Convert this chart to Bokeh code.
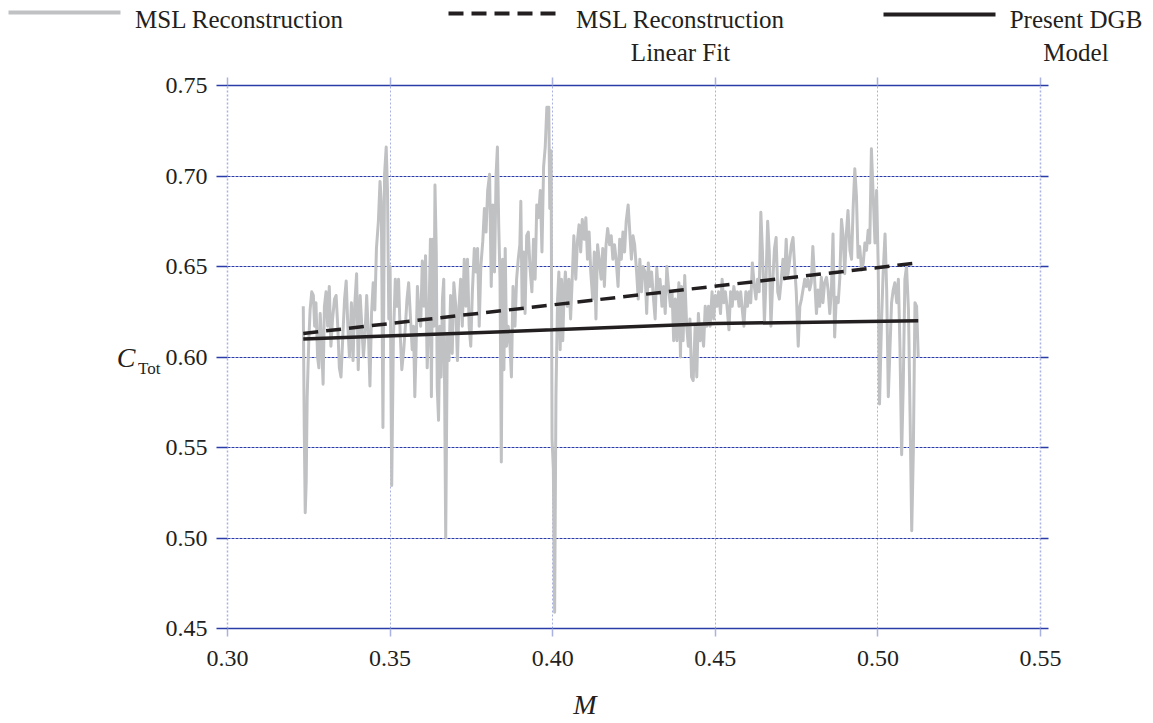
from bokeh.plotting import figure
from bokeh.models import Range1d, LinearAxis, FixedTicker, PrintfTickFormatter, Grid
from bokeh.layouts import column
from bokeh.embed import file_html
from bokeh.resources import INLINE
from bokeh.core.properties import value

# ---------------- data ----------------
msl_m = [
    0.3233, 0.3236, 0.3239, 0.3242, 0.3245, 0.3250, 0.3254, 0.3259, 0.3264, 0.3268,
    0.3272, 0.3277, 0.3281, 0.3285, 0.3289, 0.3294, 0.3298, 0.3303, 0.3308, 0.3313,
    0.3318, 0.3323, 0.3329, 0.3334, 0.3339, 0.3344, 0.3349, 0.3355, 0.3360, 0.3365,
    0.3370, 0.3375, 0.3381, 0.3386, 0.3391, 0.3397, 0.3402, 0.3408, 0.3413, 0.3418,
    0.3423, 0.3428, 0.3434, 0.3438, 0.3443, 0.3448, 0.3453, 0.3458, 0.3464, 0.3469,
    0.3473, 0.3478, 0.3483, 0.3488, 0.3492, 0.3496, 0.3500, 0.3505, 0.3510, 0.3516,
    0.3521, 0.3526, 0.3531, 0.3536, 0.3542, 0.3547, 0.3552, 0.3557, 0.3562, 0.3568,
    0.3572, 0.3576, 0.3580, 0.3584, 0.3588, 0.3594, 0.3599, 0.3604, 0.3609, 0.3614,
    0.3619, 0.3624, 0.3627, 0.3631, 0.3635, 0.3638, 0.3642, 0.3645, 0.3649, 0.3653,
    0.3657, 0.3661, 0.3665, 0.3668, 0.3671, 0.3676, 0.3681, 0.3686, 0.3691, 0.3696,
    0.3702, 0.3707, 0.3712, 0.3717, 0.3722, 0.3728, 0.3733, 0.3738, 0.3743, 0.3748,
    0.3753, 0.3759, 0.3764, 0.3769, 0.3774, 0.3779,
    0.3785, 0.3790, 0.3795, 0.3800, 0.3806, 0.3811, 0.3816, 0.3821, 0.3826, 0.3830,
    0.3834, 0.3838, 0.3842, 0.3846, 0.3850, 0.3854, 0.3858, 0.3863, 0.3868, 0.3873,
    0.3878, 0.3884, 0.3889, 0.3894, 0.3899, 0.3902, 0.3906, 0.3911, 0.3915, 0.3920,
    0.3925, 0.3930, 0.3936, 0.3941, 0.3946, 0.3951, 0.3956, 0.3962, 0.3967, 0.3972,
    0.3977, 0.3982, 0.3988, 0.3991, 0.3995, 0.3998, 0.4002, 0.4006, 0.4010, 0.4015,
    0.4019, 0.4023, 0.4027, 0.4031, 0.4035, 0.4039, 0.4045, 0.4050, 0.4055, 0.4060,
    0.4065, 0.4071, 0.4076, 0.4081, 0.4086, 0.4091, 0.4097, 0.4102, 0.4107, 0.4112,
    0.4117, 0.4123, 0.4128, 0.4133, 0.4138, 0.4143, 0.4149, 0.4154, 0.4159, 0.4164,
    0.4169, 0.4175, 0.4180, 0.4185, 0.4190, 0.4195, 0.4201, 0.4206, 0.4211, 0.4216,
    0.4221, 0.4226, 0.4232, 0.4237, 0.4242, 0.4247, 0.4252, 0.4258, 0.4263, 0.4268,
    0.4273, 0.4278, 0.4284, 0.4289, 0.4294, 0.4299, 0.4304, 0.4310, 0.4315, 0.4320,
    0.4325, 0.4330, 0.4336, 0.4341, 0.4346, 0.4351, 0.4356, 0.4362, 0.4367, 0.4372,
    0.4377, 0.4382, 0.4388, 0.4393,
    0.4396, 0.4401, 0.4406, 0.4412, 0.4417, 0.4422, 0.4427, 0.4432, 0.4438, 0.4443,
    0.4448, 0.4453, 0.4458, 0.4464, 0.4469, 0.4474, 0.4479, 0.4484, 0.4490, 0.4495,
    0.4500, 0.4505, 0.4510, 0.4516, 0.4521, 0.4526, 0.4531, 0.4536, 0.4542, 0.4547,
    0.4552, 0.4557, 0.4562, 0.4568, 0.4573, 0.4578, 0.4583, 0.4588, 0.4594, 0.4599,
    0.4604, 0.4609, 0.4614, 0.4620, 0.4625, 0.4630, 0.4635, 0.4640, 0.4645, 0.4651,
    0.4656, 0.4661, 0.4666, 0.4671, 0.4677, 0.4682, 0.4687, 0.4692, 0.4697, 0.4703,
    0.4708, 0.4713, 0.4718, 0.4723, 0.4729, 0.4734, 0.4739, 0.4744, 0.4749, 0.4755,
    0.4760, 0.4765,
    0.4775, 0.4780, 0.4785, 0.4790, 0.4795, 0.4800, 0.4806, 0.4811, 0.4816, 0.4821,
    0.4826, 0.4831, 0.4836, 0.4842, 0.4847, 0.4852, 0.4857, 0.4862, 0.4867, 0.4872,
    0.4878, 0.4883, 0.4888, 0.4893, 0.4898, 0.4903, 0.4908, 0.4914, 0.4919, 0.4924,
    0.4929, 0.4934, 0.4939, 0.4944, 0.4950, 0.4955, 0.4960, 0.4965, 0.4970, 0.4975,
    0.4980, 0.4986, 0.4991, 0.4996, 0.5001, 0.5005, 0.5011, 0.5016, 0.5022, 0.5027,
    0.5032, 0.5037, 0.5042, 0.5047, 0.5052, 0.5058, 0.5063, 0.5068, 0.5073, 0.5078,
    0.5083, 0.5088, 0.5094, 0.5099, 0.5104, 0.5109, 0.5114, 0.5119, 0.5124,
]
msl_c = [
    0.628, 0.561, 0.514, 0.531, 0.578, 0.609, 0.626, 0.636, 0.634, 0.617,
    0.630, 0.600, 0.594, 0.624, 0.609, 0.585, 0.628, 0.636, 0.617, 0.639,
    0.606, 0.621, 0.632, 0.634, 0.617, 0.594, 0.589, 0.613, 0.632, 0.642,
    0.617, 0.600, 0.630, 0.598, 0.628, 0.646, 0.593, 0.634, 0.617, 0.600,
    0.613, 0.634, 0.609, 0.584, 0.624, 0.641, 0.626, 0.660, 0.675, 0.697,
    0.686, 0.561, 0.701, 0.716, 0.692, 0.621, 0.650, 0.529, 0.609, 0.643,
    0.628, 0.643, 0.613, 0.593, 0.604, 0.617, 0.632, 0.641, 0.624, 0.604,
    0.617, 0.578, 0.606, 0.639, 0.626, 0.617, 0.653, 0.628, 0.656, 0.594,
    0.617, 0.665, 0.578, 0.665, 0.617, 0.695, 0.658, 0.583, 0.565, 0.617,
    0.589, 0.632, 0.643, 0.574, 0.500, 0.613, 0.598, 0.634, 0.602, 0.641,
    0.628, 0.598, 0.628, 0.643, 0.617, 0.654, 0.628, 0.654, 0.617, 0.606,
    0.636, 0.660, 0.647, 0.660, 0.617, 0.650,
    0.664, 0.682, 0.669, 0.692, 0.701, 0.639, 0.684, 0.647, 0.701, 0.716,
    0.673, 0.643, 0.542, 0.654, 0.593, 0.660, 0.606, 0.617, 0.609, 0.589,
    0.639, 0.617, 0.643, 0.654, 0.662, 0.686, 0.628, 0.658, 0.624, 0.667,
    0.669, 0.650, 0.636, 0.665, 0.643, 0.684, 0.677, 0.692, 0.658, 0.705,
    0.716, 0.738, 0.738, 0.682, 0.714, 0.555, 0.538, 0.459, 0.579, 0.632,
    0.647, 0.604, 0.643, 0.609, 0.636, 0.647, 0.628, 0.643, 0.621, 0.643,
    0.667, 0.643, 0.664, 0.673, 0.658, 0.676, 0.665, 0.677, 0.654, 0.669,
    0.647, 0.632, 0.658, 0.621, 0.662, 0.654, 0.643, 0.660, 0.639, 0.662,
    0.671, 0.662, 0.667, 0.654, 0.662, 0.654, 0.639, 0.665, 0.654, 0.669,
    0.658, 0.675, 0.684, 0.669, 0.654, 0.667, 0.662, 0.647, 0.632, 0.654,
    0.636, 0.650, 0.647, 0.624, 0.652, 0.639, 0.647, 0.632, 0.621, 0.649,
    0.636, 0.643, 0.628, 0.639, 0.624, 0.650, 0.639, 0.628, 0.636, 0.609,
    0.632, 0.609, 0.641, 0.600,
    0.639, 0.609, 0.645, 0.617, 0.606, 0.621, 0.589, 0.587, 0.617, 0.589,
    0.624, 0.609, 0.617, 0.606, 0.628, 0.617, 0.628, 0.617, 0.636, 0.621,
    0.634, 0.628, 0.636, 0.624, 0.643, 0.630, 0.636, 0.628, 0.615, 0.636,
    0.628, 0.639, 0.632, 0.636, 0.628, 0.636, 0.626, 0.617, 0.636, 0.628,
    0.636, 0.630, 0.652, 0.639, 0.632, 0.643, 0.636, 0.680, 0.658, 0.619,
    0.643, 0.675, 0.658, 0.617, 0.643, 0.660, 0.666, 0.636, 0.632, 0.643,
    0.654, 0.643, 0.665, 0.645, 0.654, 0.662, 0.666, 0.650, 0.636, 0.606,
    0.628, 0.632,
    0.643, 0.639, 0.643, 0.637, 0.641, 0.661, 0.641, 0.624, 0.637, 0.628,
    0.644, 0.630, 0.641, 0.644, 0.637, 0.624, 0.637, 0.668, 0.611, 0.633,
    0.630, 0.644, 0.676, 0.667, 0.646, 0.668, 0.681, 0.659, 0.654, 0.683,
    0.704, 0.689, 0.655, 0.661, 0.648, 0.652, 0.663, 0.659, 0.670, 0.663,
    0.715, 0.687, 0.663, 0.692, 0.650, 0.574, 0.619, 0.646, 0.668, 0.637,
    0.578, 0.604, 0.630, 0.637, 0.641, 0.630, 0.643, 0.604, 0.546, 0.585,
    0.643, 0.650, 0.626, 0.567, 0.504, 0.548, 0.630, 0.628, 0.600,
]
fit_m = [0.3233, 0.5124]
fit_c = [0.613, 0.652]
dgb_m = [0.3233, 0.40, 0.45, 0.5124]
dgb_c = [0.610, 0.615, 0.6185, 0.620]

x_ticks = [0.30, 0.35, 0.40, 0.45, 0.50, 0.55]
y_ticks = [0.45, 0.50, 0.55, 0.60, 0.65, 0.70, 0.75]

legend_names = ["MSL Reconstruction", "MSL Reconstruction", "Linear Fit", "Present DGB", "Model"]

# ---------------- styles ----------------
FONT = "Liberation Serif"
INK = "#231f20"
GRAY = "#c0c1c3"
NAVY = "#2a3ca8"
LIGHT = "#a9b2e0"
W = 1145
LEG_H = 66
TOTAL_H = 722
TOP = 85 - LEG_H
FRAME_H = 543

# ---------------- legend strip ----------------
leg = figure(width=W, height=LEG_H, x_range=Range1d(0, W), y_range=Range1d(LEG_H, 0),
             toolbar_location=None, output_backend="svg", x_axis_type=None, y_axis_type=None,
             min_border=0, outline_line_color=None, frame_align=False)
leg.xgrid.visible = False
leg.ygrid.visible = False
leg.line([8, 120], [12, 12], line_color=GRAY, line_width=4)
leg.line([448, 560], [13, 13], line_color=INK, line_width=4, line_dash="15 8")
leg.line([883, 995], [14, 14], line_color=INK, line_width=4)
leg.text(x=[239, 680, 680, 1075.5, 1075.5], y=[19, 19, 52, 19, 52], text=legend_names,
         text_font=value(FONT), text_font_size=value("25px"), text_color=INK,
         text_align="center", text_baseline="alphabetic")

# ---------------- main plot ----------------
p = figure(width=W, height=TOTAL_H - LEG_H, x_range=Range1d(0.30, 0.55),
           y_range=Range1d(0.45, 0.75), toolbar_location=None, output_backend="svg",
           min_border_left=227, min_border_right=W - 227 - 813, min_border_top=TOP,
           min_border_bottom=TOTAL_H - LEG_H - TOP - FRAME_H, outline_line_color=None,
           x_axis_type=None, y_axis_type=None, frame_align=False)

p.xgrid.visible = False
p.ygrid.visible = False
p.add_layout(Grid(dimension=0, ticker=FixedTicker(ticks=x_ticks), grid_line_color=LIGHT,
                  grid_line_dash="2 2", grid_line_width=1))
p.add_layout(Grid(dimension=1, ticker=FixedTicker(ticks=y_ticks), grid_line_color=NAVY,
                  grid_line_dash="3 1", grid_line_width=1.2))


def style_axis(ax, tick_color, tick_out, line_color, line_dash, labels=True, standoff=9):
    ax.major_tick_in = 0
    ax.major_tick_out = tick_out
    ax.major_tick_line_color = tick_color
    ax.major_tick_line_width = 1.5
    ax.minor_tick_line_color = None
    ax.axis_line_color = line_color
    ax.axis_line_dash = line_dash
    ax.axis_line_width = 1.5
    ax.major_label_standoff = standoff
    ax.formatter = PrintfTickFormatter(format="%.2f")
    ax.major_label_text_font = FONT
    ax.major_label_text_font_size = "24px"
    ax.major_label_text_color = INK
    if not labels:
        ax.major_label_text_font_size = "0px"
        ax.major_label_text_color = None


def label_axis(text, size, style, standoff):
    ax = LinearAxis(ticker=FixedTicker(ticks=[]), axis_label=text,
                    axis_label_orientation="horizontal", axis_label_text_font=FONT,
                    axis_label_text_font_style=style, axis_label_text_font_size=size,
                    axis_label_text_color=INK, axis_label_standoff=standoff,
                    axis_line_color=None, major_tick_line_color=None,
                    minor_tick_line_color=None, major_label_text_font_size="0px")
    return ax


left = LinearAxis(ticker=FixedTicker(ticks=y_ticks))
style_axis(left, NAVY, 11, LIGHT, "2 2", True, 9)
right = LinearAxis(ticker=FixedTicker(ticks=y_ticks))
style_axis(right, NAVY, 8, LIGHT, "2 2", False, 0)
below = LinearAxis(ticker=FixedTicker(ticks=x_ticks))
style_axis(below, LIGHT, 8, NAVY, "solid", True, 14)
below.axis_label = "M" + "\u2003" * 3 + "\u00a0" * 2
below.axis_label_text_font = FONT
below.axis_label_text_font_style = "italic"
below.axis_label_text_font_size = "28px"
below.axis_label_text_color = INK
below.axis_label_standoff = 20
above = LinearAxis(ticker=FixedTicker(ticks=x_ticks))
style_axis(above, LIGHT, 8, NAVY, "solid", False, 0)

p.add_layout(left, "left")
p.add_layout(label_axis("\u00a0\nTot", "17px", "normal", 2), "left")
p.add_layout(label_axis("C", "28px", "italic", 0), "left")
p.add_layout(right, "right")
p.add_layout(below, "below")
p.add_layout(above, "above")

p.line(msl_m, msl_c, line_color=GRAY, line_width=3, line_join="round")
p.line(fit_m, fit_c, line_color=INK, line_width=3.5, line_dash="15 8")
p.line(dgb_m, dgb_c, line_color=INK, line_width=3.5)

layout = column(leg, p, spacing=0)
open("out.html", "w").write(file_html(layout, INLINE))
